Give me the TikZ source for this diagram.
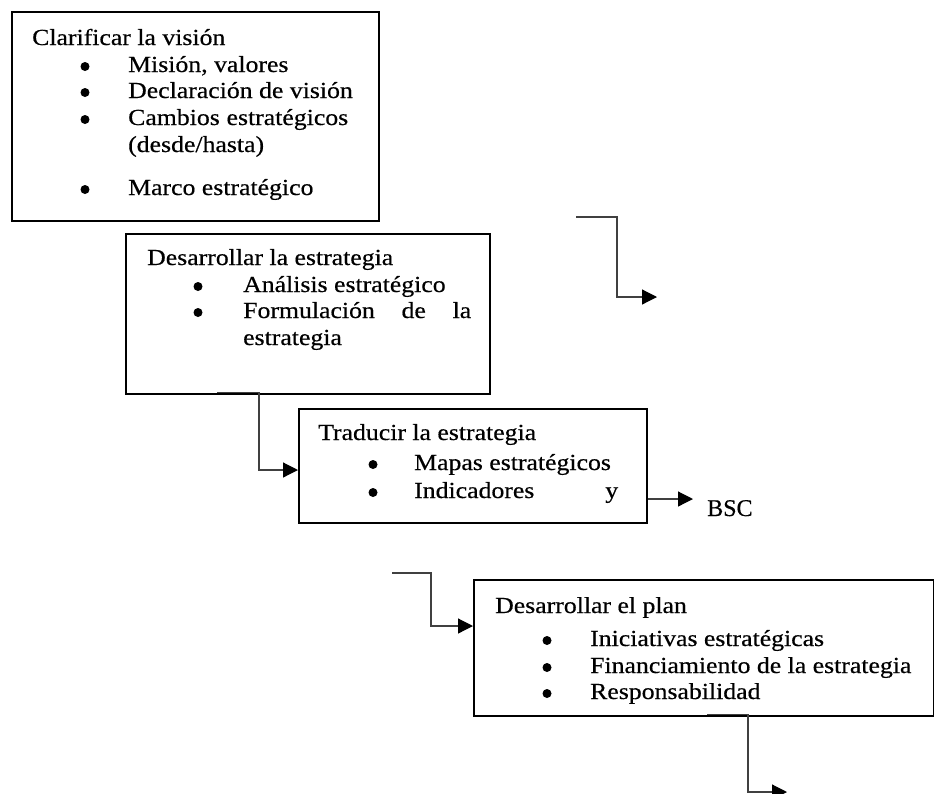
\documentclass[tikz,border=0pt]{standalone}
\usepackage{fontspec}
\setmainfont{Liberation Serif}[FakeStretch=1.12, FakeBold=0.5]
\newfontfamily\bscfont{Liberation Serif}[FakeBold=0.5]
\usetikzlibrary{arrows.meta, calc}

\begin{document}
\begin{tikzpicture}[
    x=1pt, y=-1pt,
    box/.style={
        rectangle,
        draw,
        line width=1.8pt,
        inner sep=0pt,
        anchor=north west
    },
    txt/.style={
        anchor=base west,
        inner sep=0pt,
        font=\fontsize{23}{27}\selectfont
    },
    dot/.style={
        circle,
        fill,
        inner sep=0pt,
        minimum size=9pt,
        yshift=5.5pt
    },
    conn/.style={-{Triangle[length=15pt, width=15pt, color=black, fill=black]}, line width=1.2pt, draw=black!75}
]
\useasboundingbox (0,0) rectangle (934,793);

% Boxes
\node[box, minimum width=367pt, minimum height=209pt] (vision) at (11,11) {};
\node[box, minimum width=364pt, minimum height=160pt] (estrategia) at (125,233) {};
\node[box, minimum width=348pt, minimum height=114pt] (traducir) at (298,408) {};
\node[box, minimum width=460pt, minimum height=136pt] (plan) at (473,579) {};

% Clarificar la vision
\node[txt] (v0) at (32,45) {Clarificar la visión};
\node[dot] (vb1) at (85,72) {};
\node[txt] (v1) at (128,72) {Misión, valores};
\node[dot] (vb2) at (85,98) {};
\node[txt] (v2) at (128,98) {Declaración de visión};
\node[dot] (vb3) at (85,125) {};
\node[txt] (v3) at (128,125) {\makebox[220pt][s]{Cambios estratégicos}};
\node[txt] (v3b) at (128,152) {(desde/hasta)};
\node[dot] (vb4) at (85,195) {};
\node[txt] (v4) at (128,195) {Marco estratégico};

% Desarrollar la estrategia
\node[txt] (e0) at (147,265) {Desarrollar la estrategia};
\node[dot] (eb1) at (198,292) {};
\node[txt] (e1) at (243,292) {Análisis estratégico};
\node[dot] (eb2) at (198,318) {};
\node[txt] (e2) at (243,318) {\makebox[228pt][s]{Formulación de la}};
\node[txt] (e2b) at (243,345) {estrategia};

% Traducir la estrategia
\node[txt] (t0) at (318,440) {Traducir la estrategia};
\node[dot] (tb1) at (373,470) {};
\node[txt] (t1) at (414,470) {Mapas estratégicos};
\node[dot] (tb2) at (373,498) {};
\node[txt] (t2) at (414,498) {\makebox[204pt][s]{Indicadores y}};

\node[anchor=base west, inner sep=0pt, font={\bscfont\fontsize{24}{28}\selectfont}] (bsc) at (707,516) {BSC};

% Desarrollar el plan
\begin{scope}
\clip (plan.north west) rectangle ($(plan.south east)+(0,-13)$);
\node[txt] (p0) at (495,613) {Desarrollar el plan};
\node[dot] (pb1) at (547,646) {};
\node[txt] (p1) at (590,646) {Iniciativas estratégicas};
\node[dot] (pb2) at (547,673) {};
\node[txt] (p2) at (590,673) {Financiamiento de la estrategia};
\node[dot] (pb3) at (547,699) {};
\node[txt] (p3) at (590,699) {Responsabilidad};
\end{scope}

% Connectors
\coordinate (f1) at (576,217);
\coordinate (f1tip) at (657,297);
\coordinate (f2) at (392,573);
\coordinate (bsctip) at (693,499);
\coordinate (f3tip) at (787,792);

\draw[conn] (f1) -- ++(41,0) |- (f1tip);
\draw[conn] ($(estrategia.south west)+(92,-2)$) -- ++(42,0) |- ($(traducir.north west)+(0,62)$);
\draw[conn] ($(traducir.north east)+(0,91)$) -- (bsctip);
\draw[conn] (f2) -- ++(39,0) |- ($(plan.north west)+(0,47)$);
\draw[conn] ($(plan.south west)+(234,-2)$) -- ++(41,0) |- (f3tip);

\end{tikzpicture}
\end{document}
